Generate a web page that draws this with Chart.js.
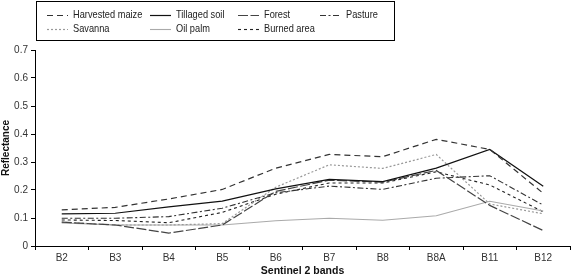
<!DOCTYPE html>
<html><head><meta charset="utf-8">
<script src="https://cdn.jsdelivr.net/npm/chart.js@4"></script>
<style>html,body{margin:0;padding:0;background:#fff}#wrap{width:577px;height:277px;position:relative}</style>
</head><body><div id="wrap"><canvas id="c"></canvas></div>
<script>
const categories = ["B2","B3","B4","B5","B6","B7","B8","B8A","B11","B12"];
const harvestedMaize = [0.129,0.138,0.168,0.202,0.278,0.327,0.319,0.381,0.345,0.188];
const tillagedSoil   = [0.115,0.117,0.140,0.160,0.204,0.238,0.230,0.278,0.345,0.213];
const forest         = [0.085,0.075,0.046,0.075,0.195,0.235,0.228,0.270,0.145,0.055];
const pasture        = [0.099,0.099,0.105,0.135,0.190,0.214,0.202,0.242,0.251,0.146];
const savanna        = [0.085,0.075,0.075,0.080,0.210,0.290,0.277,0.327,0.150,0.115];
const oilPalm        = [0.082,0.075,0.075,0.075,0.090,0.099,0.092,0.108,0.160,0.125];
const burnedArea     = [0.093,0.091,0.083,0.120,0.185,0.225,0.225,0.265,0.218,0.122];
const yTicks = [0,0.1,0.2,0.3,0.4,0.5,0.6,0.7];

const FONT = "'Liberation Sans',Arial,sans-serif";

function ds(label, data, color, dash, width){
  return {label, data, borderColor: color, borderDash: dash, borderWidth: width||1.1,
    pointRadius: 0, fill: false, tension: 0};
}
const datasets = [
  ds("Harvested maize", harvestedMaize, "#333", [6,4], 1.2),
  ds("Tillaged soil", tillagedSoil, "#111", [], 1.2),
  ds("Forest", forest, "#444", [10,2.5], 1.2),
  ds("Pasture", pasture, "#333", [6,2.5,2,2.5], 1.1),
  ds("Savanna", savanna, "#999", [2,2], 1.2),
  ds("Oil palm", oilPalm, "#aaa", [], 1.1),
  ds("Burned area", burnedArea, "#222", [3,3], 1.1),
];

const legendPos = [
  {i:0, x:47, y:15}, {i:1, x:150, y:15}, {i:2, x:238, y:15}, {i:3, x:320, y:15},
  {i:4, x:47, y:29}, {i:5, x:150, y:29}, {i:6, x:238, y:29}
];

const legendPlugin = {
  id: 'boxLegend',
  afterDraw(chart){
    const ctx = chart.ctx;
    ctx.save();
    ctx.strokeStyle = "#000"; ctx.lineWidth = 1; ctx.setLineDash([]);
    ctx.strokeRect(36.5, 1.5, 358, 39);
    ctx.textBaseline = "middle";
    ctx.fillStyle = "#222";
    legendPos.forEach(p => {
      const d = chart.data.datasets[p.i];
      ctx.strokeStyle = d.borderColor; ctx.lineWidth = d.borderWidth;
      ctx.setLineDash(d.borderDash);
      ctx.beginPath(); ctx.moveTo(p.x, p.y+0.5); ctx.lineTo(p.x+21, p.y+0.5); ctx.stroke();
      ctx.setLineDash([]);
      ctx.save();
      ctx.translate(p.x+26, p.y);
      ctx.scale(0.84, 1);
      ctx.font = "11px " + FONT;
      ctx.fillText(d.label, 0, 0);
      ctx.restore();
    });
    ctx.restore();
  }
};

new Chart(document.getElementById('c'), {
  type: 'line',
  data: { labels: categories, datasets },
  options: {
    responsive: true, maintainAspectRatio: false, animation: false,
    layout: { padding: { top: 50, right: 7, left: 0, bottom: 0 } },
    plugins: { legend: { display: false }, tooltip: { enabled: false } },
    scales: {
      x: {
        offset: true,
        grid: { display: true, offset: true, drawOnChartArea: false, tickLength: 4, color: "#000" },
        border: { display: true, color: "#000", width: 1 },
        ticks: { color: "#333", font: { family: FONT, size: 10 }, padding: 2, maxRotation: 0, autoSkip: false },
        title: { display: true, text: "Sentinel 2 bands", color: "#111", font: { family: FONT, size: 10.5, weight: "bold" }, padding: { top: 0, bottom: 0 } },
        afterFit(s){ s.height = 31; }
      },
      y: {
        min: 0, max: 0.7,
        afterBuildTicks(s){ s.ticks = yTicks.map(v => ({value: v})); },
        grid: { display: true, drawOnChartArea: false, tickLength: 4, color: "#000" },
        border: { display: true, color: "#000", width: 1 },
        ticks: { color: "#333", font: { family: FONT, size: 10 }, padding: 3,
          callback: v => v === 0 ? "0" : v.toFixed(1) },
        title: { display: true, text: "Reflectance", color: "#111", font: { family: FONT, size: 10, weight: "bold" }, padding: { top: 0, bottom: 2 } },
        afterFit(s){ s.width = 35; }
      }
    }
  },
  plugins: [legendPlugin]
});
</script>
</body></html>
